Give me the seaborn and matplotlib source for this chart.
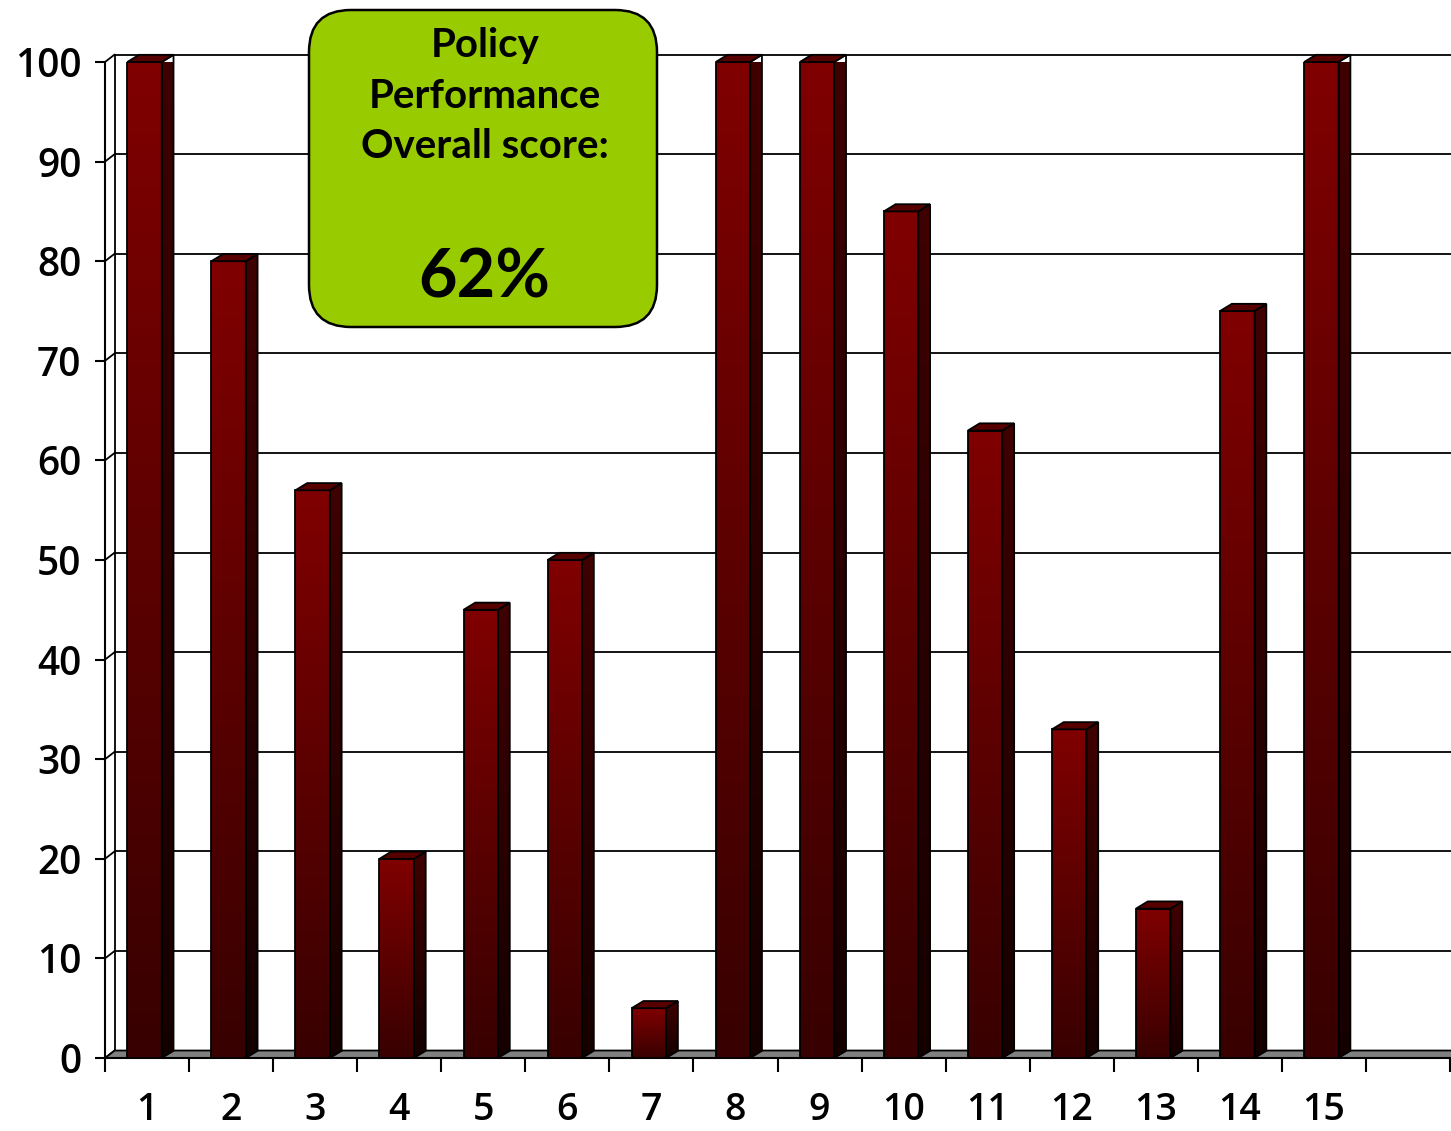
"""
Policy performance per item, drawn as Excel-style 3D columns.
"""
import numpy as np
import pandas as pd
import matplotlib
matplotlib.use("Agg")
from matplotlib import pyplot
from matplotlib.patches import Polygon, FancyBboxPatch
from matplotlib.colors import LinearSegmentedColormap
import seaborn

items = [str(i) for i in range(1, 16)]
scores = [100, 80, 57, 20, 45, 50, 5, 100, 100, 85, 63, 33, 15, 75, 100]
y_ticks = list(range(0, 101, 10))
box_lines = ["Policy", "Performance", "Overall score:"]
overall = "62%"

seaborn.set_style("white")
pyplot.rcParams["font.family"] = ["Open Sans", "DejaVu Sans"]

df = pd.DataFrame({"item": items, "score": scores})

fig = pyplot.figure(figsize=(14.51, 11.31), dpi=100)
ax = fig.add_axes([105 / 1451, 73 / 1131, 1345 / 1451, 996 / 1131])

seaborn.barplot(data=df, x="item", y="score", order=items, color="#800000",
                width=0.41, ax=ax, zorder=3)

n_slots = 16
xmin, xmax = -0.5, n_slots - 0.5
# depth offsets (data units): wall and column depth
wdx, wdy = 0.115, 0.75
bdx, bdy = 0.14, 0.72

# back wall grid lines + little diagonals from the front axis
for v in y_ticks:
    ax.plot([xmin + wdx, xmax + 0.1], [v + wdy, v + wdy], color="black", lw=1.3,
            zorder=0.5, clip_on=False)
    ax.plot([xmin, xmin + wdx], [v, v + wdy], color="black", lw=1.3, zorder=0.5, clip_on=False)
ax.plot([xmin + wdx, xmin + wdx], [wdy, 100 + wdy], color="black", lw=1.3, zorder=0.5, clip_on=False)

# floor
floor = Polygon([(xmin, 0), (xmin + wdx, wdy), (xmax + 0.1, wdy), (xmax + 0.1, 0)],
                closed=True, facecolor="#808080", edgecolor="black", lw=1.3,
                zorder=0.8, clip_on=False)
ax.add_patch(floor)

front_cmap = LinearSegmentedColormap.from_list("front", ["#380000", "#800000"])
side_cmap = LinearSegmentedColormap.from_list("side", ["#150000", "#400000"])
grad = np.linspace(0, 1, 256).reshape(-1, 1)

for patch in list(ax.patches):
    if patch is floor:
        continue
    x0 = patch.get_x() - 0.03
    w = patch.get_width()
    h = patch.get_height()
    patch.set_x(x0)
    x1 = x0 + w
    patch.set_facecolor("none")
    patch.set_edgecolor("black")
    patch.set_linewidth(1.3)
    patch.set_zorder(4)

    im = ax.imshow(grad, extent=[x0, x1, 0, h], origin="lower", aspect="auto",
                   cmap=front_cmap, zorder=3, interpolation="bilinear")
    im.set_clip_path(patch)

    side = Polygon([(x1, 0), (x1 + bdx, bdy), (x1 + bdx, h + bdy), (x1, h)], closed=True,
                   facecolor="none", edgecolor="black", lw=1.3, zorder=4, clip_on=False)
    ax.add_patch(side)
    im2 = ax.imshow(grad, extent=[x1, x1 + bdx, 0, h + bdy], origin="lower", aspect="auto",
                    cmap=side_cmap, zorder=3, interpolation="bilinear")
    im2.set_clip_path(side)
    im2.set_clip_box(None)

    top = Polygon([(x0, h), (x0 + bdx, h + bdy), (x1 + bdx, h + bdy), (x1, h)], closed=True,
                  facecolor="#560000", edgecolor="black", lw=1.3, zorder=4, clip_on=False)
    ax.add_patch(top)

ax.set_xlim(xmin, xmax)
ax.set_ylim(0, 100)
ax.set_aspect("auto")

ax.set_yticks(y_ticks)
ax.set_xticks(range(len(items)))
ax.set_xticklabels(items)
ax.set_xticks(np.arange(xmin, xmax + 0.01, 1), minor=True)
ax.tick_params(axis="x", which="major", length=0, pad=24, labelsize=27, colors="black")
ax.tick_params(axis="x", which="minor", length=10, width=1.5, direction="out",
               bottom=True, color="black")
ax.tick_params(axis="y", length=7, width=1.5, direction="out", left=True, pad=10,
               labelsize=28, colors="black")
for lab in ax.get_xticklabels() + ax.get_yticklabels():
    lab.set_fontweight("semibold")
ax.set_xlabel("")
ax.set_ylabel("")
for side_name in ["top", "right"]:
    ax.spines[side_name].set_visible(False)
for side_name in ["left", "bottom"]:
    ax.spines[side_name].set_color("black")
    ax.spines[side_name].set_linewidth(1.5)
ax.patch.set_alpha(0)

# score box
box = FancyBboxPatch((3.09, 8.04), 3.48, 3.17, boxstyle="round,pad=0,rounding_size=0.42",
                     transform=fig.dpi_scale_trans, facecolor="#99cc00", edgecolor="black",
                     lw=1.8, zorder=10)
fig.add_artist(box)
for line, y_in in zip(box_lines, [10.86, 10.35, 9.84]):
    fig.text(4.85, y_in, line, transform=fig.dpi_scale_trans, ha="center", va="center",
             fontsize=29, fontweight="bold", family=["Lato", "DejaVu Sans"], color="black",
             zorder=11)
fig.text(4.84, 8.53, overall, transform=fig.dpi_scale_trans, ha="center", va="center",
         fontsize=48, fontweight="bold", family=["Lato", "DejaVu Sans"], color="black",
         zorder=11)

fig.savefig("out.png", dpi=100)
